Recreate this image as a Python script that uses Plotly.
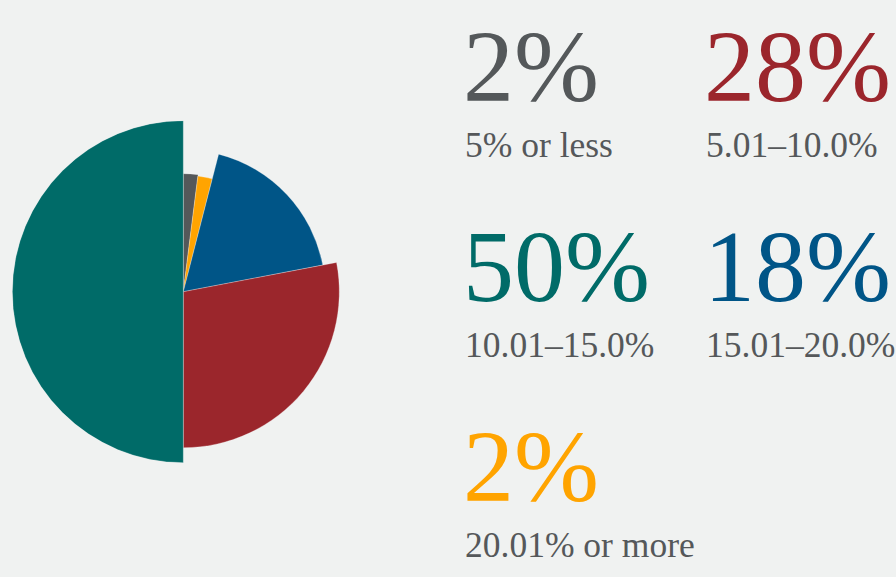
import plotly.graph_objects as go

# ---- data ----
categories = ["5% or less", "20.01% or more", "15.01–20.0%", "5.01–10.0%", "10.01–15.0%"]
shares = [2, 2, 18, 28, 50]          # percent of total
radii = [118, 116.5, 142, 156, 171]  # outer radius of each slice
colors = ["#54585a", "#ffa400", "#005587", "#9b262c", "#006b68"]

# legend blocks (order in the grid)
grid_order = ["5% or less", "5.01–10.0%", "10.01–15.0%", "15.01–20.0%", "20.01% or more"]

W, H = 896, 577
BG = "#f0f2f1"
LABEL_COLOR = "#55585a"

# slice angles from shares
widths = [s * 3.6 for s in shares]
thetas = []
acc = 0
for w in widths:
    thetas.append(acc + w / 2)
    acc += w

fig = go.Figure()
fig.add_trace(go.Barpolar(
    r=radii,
    theta=thetas,
    width=widths,
    marker=dict(color=colors, line=dict(color="rgba(255,255,255,0.45)", width=0.6)),
    hoverinfo="skip",
    showlegend=False,
))

cx, cy, R = 183.3, 291.7, 171.3
fig.update_layout(
    width=W, height=H,
    margin=dict(l=0, r=0, t=0, b=0),
    paper_bgcolor=BG,
    plot_bgcolor=BG,
    polar=dict(
        domain=dict(x=[(cx - R) / W, (cx + R) / W], y=[1 - (cy + R) / H, 1 - (cy - R) / H]),
        bgcolor="rgba(0,0,0,0)",
        radialaxis=dict(range=[0, R], visible=False, showgrid=False),
        angularaxis=dict(rotation=90, direction="clockwise", visible=False, showgrid=False),
        bargap=0,
    ),
)

# text grid
col_x = [461, 702]
row_big_base = [102, 302, 502]     # baseline of big numbers (px from top)
row_small_base = [158, 358, 558]   # baseline of range labels
big_size, small_size = 102, 35.5
font_serif = "Liberation Serif, Times New Roman, serif"

annotations = []
color_of = dict(zip(categories, colors))
share_of = dict(zip(categories, shares))
for i, cat in enumerate(grid_order):
    r_i, c_i = divmod(i, 2)
    x = col_x[c_i]
    big_bottom = row_big_base[r_i] + 0.216 * big_size + 1
    small_bottom = row_small_base[r_i] + 0.216 * small_size + 1
    annotations.append(dict(
        x=x / W, y=1 - big_bottom / H, xref="paper", yref="paper",
        xanchor="left", yanchor="bottom", showarrow=False,
        text=f"{share_of[cat]}%",
        font=dict(family=font_serif, size=big_size, color=color_of[cat]),
    ))
    annotations.append(dict(
        x=(x + 2) / W, y=1 - small_bottom / H, xref="paper", yref="paper",
        xanchor="left", yanchor="bottom", showarrow=False,
        text=cat,
        font=dict(family=font_serif, size=small_size, color=LABEL_COLOR),
    ))
fig.update_layout(annotations=annotations)

fig.write_html(
    "out.html",
    config={"displayModeBar": False, "staticPlot": True},
    post_script="document.body.style.margin='0';document.body.style.background='%s';" % BG,
)
